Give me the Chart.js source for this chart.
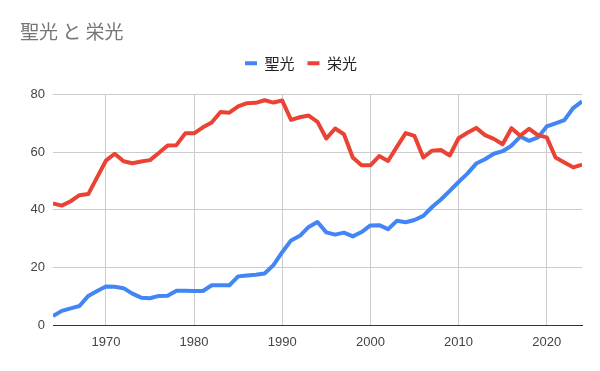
<!DOCTYPE html>
<html lang="ja">
<head>
<meta charset="UTF-8">
<title>聖光 と 栄光</title>
<script src="https://cdn.jsdelivr.net/npm/chart.js"></script>
<style>
    body {
        margin: 0;
        background: #fff;
    }
    #wrap {
        width: 600px;
        height: 371px;
    }
</style>
</head>
<body>
<div id="wrap">
    <canvas id="chart" width="600" height="371"></canvas>
</div>

<script>
const years = [1964, 1965, 1966, 1967, 1968, 1969, 1970, 1971, 1972, 1973,
    1974, 1975, 1976, 1977, 1978, 1979, 1980, 1981, 1982, 1983,
    1984, 1985, 1986, 1987, 1988, 1989, 1990, 1991, 1992, 1993,
    1994, 1995, 1996, 1997, 1998, 1999, 2000, 2001, 2002, 2003,
    2004, 2005, 2006, 2007, 2008, 2009, 2010, 2011, 2012, 2013,
    2014, 2015, 2016, 2017, 2018, 2019, 2020, 2021, 2022, 2023, 2024];

// 聖光
const seiko = [3.1, 4.9, 5.8, 6.6, 10.1, 11.8, 13.4, 13.3, 12.8, 10.9,
    9.5, 9.3, 10.1, 10.2, 11.9, 11.9, 11.8, 11.8, 13.8, 13.8,
    13.8, 16.9, 17.2, 17.5, 17.9, 20.8, 25.3, 29.4, 31.0, 34.1,
    35.8, 32.2, 31.4, 32.1, 30.8, 32.3, 34.6, 34.7, 33.3, 36.2,
    35.7, 36.5, 37.9, 41.0, 43.6, 46.6, 49.7, 52.6, 56.1, 57.6,
    59.5, 60.4, 62.3, 65.5, 64.0, 65.2, 69.0, 70.1, 71.2, 75.4, 77.7];

// 栄光
const eiko = [42.2, 41.5, 43.0, 45.1, 45.5, 51.3, 57.1, 59.5, 56.9, 56.2,
    56.8, 57.3, 59.8, 62.4, 62.5, 66.6, 66.6, 68.7, 70.4, 74.0,
    73.8, 76.0, 77.1, 77.2, 78.1, 77.3, 78.0, 71.3, 72.2, 72.8,
    70.6, 64.8, 68.3, 66.3, 58.2, 55.5, 55.5, 58.7, 57.0, 61.9,
    66.7, 65.7, 58.2, 60.6, 60.8, 58.9, 64.9, 66.8, 68.5, 66.0,
    64.7, 62.8, 68.4, 65.8, 68.2, 66.0, 65.2, 58.2, 56.5, 54.8, 55.7];

const xTicks = [1970, 1980, 1990, 2000, 2010, 2020];
const yTicks = [0, 20, 40, 60, 80];

const toPoints = vals => vals.map((v, i) => ({ x: years[i], y: v }));

// extra room between the legend and the plot
const legendGap = {
    id: 'legendGap',
    beforeInit(chart) {
        const fit = chart.legend.fit;
        chart.legend.fit = function () {
            fit.call(this);
            this.height += 14;
        };
    }
};

const ctx = document.getElementById('chart').getContext('2d');
new Chart(ctx, {
    type: 'line',
    data: {
        datasets: [{
            label: '聖光',
            data: toPoints(seiko),
            borderColor: '#4285f4',
            backgroundColor: '#4285f4',
            borderWidth: 4,
            pointRadius: 0,
            borderJoinStyle: 'round',
            tension: 0,
            order: 1
        }, {
            label: '栄光',
            data: toPoints(eiko),
            borderColor: '#ea4335',
            backgroundColor: '#ea4335',
            borderWidth: 4,
            pointRadius: 0,
            borderJoinStyle: 'round',
            tension: 0,
            order: 0
        }]
    },
    plugins: [legendGap],
    options: {
        responsive: false,
        animation: false,
        layout: { padding: { left: 20, right: 18, top: 0, bottom: 0 } },
        plugins: {
            title: {
                display: true,
                text: '聖光 と 栄光',
                align: 'start',
                color: '#757575',
                font: { family: '"Noto Sans CJK JP", sans-serif', size: 19, weight: 'normal' },
                padding: { top: 20, bottom: 0 }
            },
            legend: {
                display: true,
                labels: {
                    boxWidth: 12,
                    boxHeight: 4,
                    padding: 13,
                    color: '#222',
                    font: { family: '"Noto Sans CJK JP", sans-serif', size: 15 },
                    sort: (a, b) => a.datasetIndex - b.datasetIndex,
                    generateLabels: chart => Chart.defaults.plugins.legend.labels.generateLabels(chart)
                        .map(item => Object.assign(item, { lineWidth: 0 }))
                }
            },
            tooltip: { enabled: false }
        },
        scales: {
            x: {
                type: 'linear',
                min: 1964,
                max: 2024,
                afterBuildTicks: axis => { axis.ticks = xTicks.map(v => ({ value: v })); },
                afterFit: axis => { axis.height = 46; },
                ticks: {
                    color: '#444',
                    padding: 10,
                    font: { family: '"Liberation Sans", Arial, sans-serif', size: 13 },
                    callback: v => String(v)
                },
                grid: { color: '#cccccc', drawTicks: false },
                border: { display: true, color: '#333', width: 1 }
            },
            y: {
                min: 0,
                max: 80,
                afterBuildTicks: axis => { axis.ticks = yTicks.map(v => ({ value: v })); },
                afterFit: axis => { axis.width = 33; },
                ticks: {
                    color: '#444',
                    padding: 8,
                    font: { family: '"Liberation Sans", Arial, sans-serif', size: 13 }
                },
                grid: { color: '#cccccc', drawTicks: false },
                border: { display: false }
            }
        }
    }
});
</script>
</body>
</html>
